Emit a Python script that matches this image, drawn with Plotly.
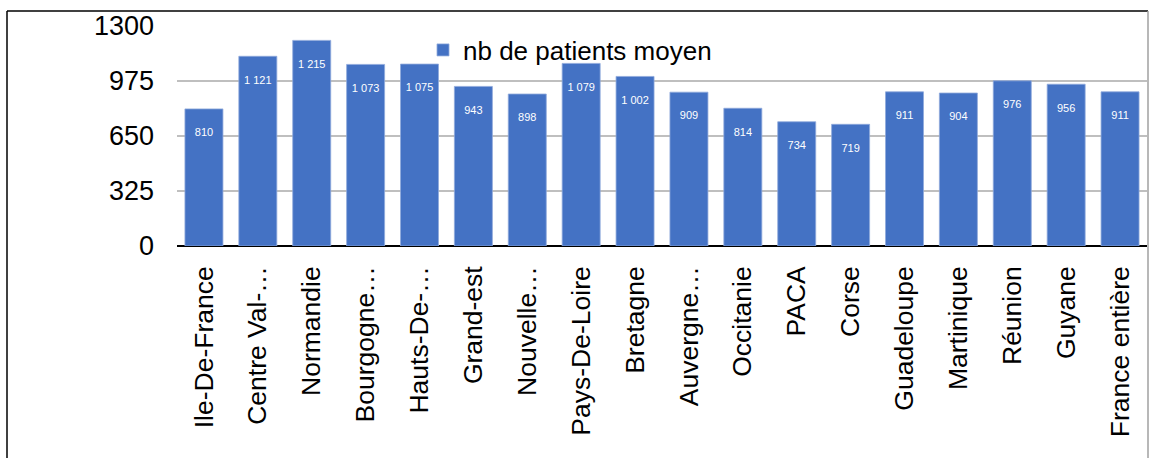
import plotly.graph_objects as go

categories = ["Ile-De-France", "Centre Val-…", "Normandie", "Bourgogne…", "Hauts-De-…",
              "Grand-est", "Nouvelle…", "Pays-De-Loire", "Bretagne", "Auvergne…",
              "Occitanie", "PACA", "Corse", "Guadeloupe", "Martinique", "Réunion",
              "Guyane", "France entière"]
values = [810, 1121, 1215, 1073, 1075, 943, 898, 1079, 1002, 909, 814, 734, 719,
          911, 904, 976, 956, 911]
series_name = "nb de patients moyen"
y_ticks = [0, 325, 650, 975, 1300]

labels = [f"{v:,}".replace(",", " ") for v in values]

W, H = 1149, 458
L, R, T, B = 177, 2, 26, 212
pw, ph = W - L - R, H - T - B

def px(x):
    return (x - L) / pw

def py(y):
    return (H - B - y) / ph

font = "Liberation Sans, Arial, Helvetica, sans-serif"

fig = go.Figure()
fig.add_trace(go.Bar(
    x=categories, y=values, name=series_name,
    marker=dict(color="#4472C4", line=dict(color="#8FAADC", width=0.8)),
    text=["\u00a0<br>" + t for t in labels], textposition="inside", insidetextanchor="end",
    textangle=0,
    textfont=dict(color="white", size=11, family=font),
    showlegend=True,
))

fig.update_layout(
    width=W, height=H,
    margin=dict(l=L, r=R, t=T, b=B, autoexpand=False),
    paper_bgcolor="white", plot_bgcolor="white",
    bargap=0.295,
    font=dict(family=font, color="black"),
    legend=dict(x=px(423), y=py(50), xanchor="left", yanchor="middle",
                font=dict(size=26, family=font), bgcolor="rgba(0,0,0,0)",
                itemwidth=30),
    xaxis=dict(tickangle=-90, tickfont=dict(size=26.5, family=font),
               showgrid=False, showline=False, ticks="", ticklabelstandoff=14),
    yaxis=dict(range=[0, 1300], tickvals=y_ticks, ticktext=[str(v) for v in y_ticks],
               tickfont=dict(size=27, family=font), showgrid=True,
               gridcolor="#BFBFBF", gridwidth=2, zeroline=True, zerolinecolor="black",
               zerolinewidth=2, showline=False, ticks="", ticklabelstandoff=22),
)

shapes = [
    dict(type="line", xref="paper", yref="paper", x0=px(7), x1=px(7), y0=py(11), y1=py(458),
         line=dict(color="black", width=1.5)),
    dict(type="line", xref="paper", yref="paper", x0=px(7), x1=px(1148), y0=py(11), y1=py(11),
         line=dict(color="black", width=1.5)),
    dict(type="line", xref="paper", yref="paper", x0=px(1148), x1=px(1148), y0=py(11), y1=py(458),
         line=dict(color="#A0A0A0", width=1.5)),
]
fig.update_layout(shapes=shapes)

fig.write_html("out.html", config={"displayModeBar": False},
               post_script="document.body.style.margin='0';")
